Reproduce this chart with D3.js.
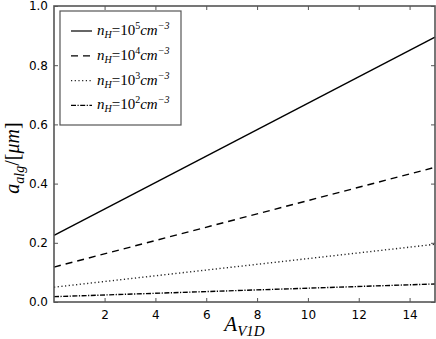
<!DOCTYPE html>
<html>
<head>
<meta charset="utf-8">
<script src="https://cdn.jsdelivr.net/npm/d3@7"></script>
<style>
  html, body { margin: 0; padding: 0; background: #fff; }
  svg { display: block; }
  .tick text { font-family: "DejaVu Sans", sans-serif; font-size: 12px; fill: #000; }
  .math { font-family: "Liberation Serif", "DejaVu Serif", serif; font-style: italic; fill: #000; }
</style>
</head>
<body>
<div id="chart"></div>
<script>
(function () {
  'use strict';

  // A_V1D endpoints of each (straight) curve
  const AV = [0.01, 15];
  // grain size a_alg in micron, one array per density
  const A_NH5 = [0.225, 0.895];
  const A_NH4 = [0.118, 0.455];
  const A_NH3 = [0.050, 0.195];
  const A_NH2 = [0.018, 0.061];

  const EXPONENTS = ['5', '4', '3', '2'];
  const X_TICKS = [2, 4, 6, 8, 10, 12, 14];
  const Y_TICKS = [0, 0.2, 0.4, 0.6, 0.8, 1.0];

  const SERIES = [
    { exp: EXPONENTS[0], values: A_NH5, dash: null, color: '#000' },
    { exp: EXPONENTS[1], values: A_NH4, dash: '7,5', color: '#000' },
    { exp: EXPONENTS[2], values: A_NH3, dash: '1.2,2.5', color: '#222' },
    { exp: EXPONENTS[3], values: A_NH2, dash: '5,1.5,1.2,1.5', color: '#000' },
  ];

  const W = 436, H = 339;
  const margin = { top: 6, right: 1, bottom: 37, left: 54 };
  const w = W - margin.left - margin.right;
  const h = H - margin.top - margin.bottom;

  const svg = d3.select('#chart').append('svg')
    .attr('width', W).attr('height', H);
  const g = svg.append('g').attr('transform', `translate(${margin.left},${margin.top})`);

  const x = d3.scaleLinear().domain([0.01, 15]).range([0, w]);
  const y = d3.scaleLinear().domain([0, 1]).range([h, 0]);

  // Curves
  const line = d3.line().x(d => x(d[0])).y(d => y(d[1]));
  SERIES.forEach(s => {
    g.append('path')
      .datum(AV.map((a, i) => [a, s.values[i]]))
      .attr('d', line)
      .attr('fill', 'none')
      .attr('stroke', s.color)
      .attr('stroke-width', 1.4)
      .attr('stroke-dasharray', s.dash);
  });

  // Axes, ticks pointing inwards on all four sides
  const axisColor = '#555';
  const styleAxis = (sel) => {
    sel.select('.domain').remove();
    sel.selectAll('.tick line').attr('stroke', axisColor).attr('stroke-width', 1);
  };

  g.append('g').attr('transform', `translate(0,${h})`)
    .call(d3.axisBottom(x).tickValues(X_TICKS).tickSizeInner(-4).tickSizeOuter(0).tickPadding(8).tickFormat(d3.format('d')))
    .call(styleAxis);
  g.append('g')
    .call(d3.axisTop(x).tickValues(X_TICKS).tickSizeInner(-4).tickSizeOuter(0).tickFormat(''))
    .call(styleAxis);
  g.append('g')
    .call(d3.axisLeft(y).tickValues(Y_TICKS).tickSizeInner(-4).tickSizeOuter(0).tickPadding(6).tickFormat(d3.format('.1f')))
    .call(styleAxis);
  g.append('g').attr('transform', `translate(${w},0)`)
    .call(d3.axisRight(y).tickValues(Y_TICKS).tickSizeInner(-4).tickSizeOuter(0).tickFormat(''))
    .call(styleAxis);

  // Frame
  g.append('rect')
    .attr('x', 0).attr('y', 0).attr('width', w).attr('height', h)
    .attr('fill', 'none').attr('stroke', axisColor).attr('stroke-width', 1.6);

  // Axis labels
  const xl = svg.append('text').attr('class', 'math')
    .attr('x', margin.left + w / 2).attr('y', 331)
    .attr('text-anchor', 'middle').attr('font-size', 21);
  xl.append('tspan').text('A');
  xl.append('tspan').attr('font-size', 15).attr('dy', 5).text('V1D');

  const yl = svg.append('text').attr('class', 'math')
    .attr('transform', `translate(19,${margin.top + 152}) rotate(-90)`)
    .attr('text-anchor', 'middle').attr('font-size', 20);
  yl.append('tspan').text('a');
  yl.append('tspan').attr('font-size', 14).attr('dy', 5).text('alg');
  yl.append('tspan').attr('dy', -5).attr('font-style', 'normal').text('/[');
  yl.append('tspan').text('μm');
  yl.append('tspan').attr('font-style', 'normal').text(']');

  // Legend
  const lg = svg.append('g');
  lg.append('rect')
    .attr('x', 60).attr('y', 11).attr('width', 121).attr('height', 114)
    .attr('fill', '#fff').attr('stroke', axisColor).attr('stroke-width', 1.2);
  SERIES.forEach((s, i) => {
    const ry = 31 + i * 24.8;
    lg.append('line')
      .attr('x1', 71).attr('x2', 92).attr('y1', ry).attr('y2', ry)
      .attr('stroke', s.color).attr('stroke-width', 1.2)
      .attr('stroke-dasharray', s.dash);
    const t = lg.append('text').attr('class', 'math')
      .attr('x', 97).attr('y', ry + 4).attr('font-size', 15);
    t.append('tspan').text('n');
    t.append('tspan').attr('font-size', 10).attr('dy', 3).text('H');
    t.append('tspan').attr('dy', -3).attr('font-style', 'normal').text('=10');
    t.append('tspan').attr('font-size', 10).attr('dy', -6).attr('font-style', 'normal').text(s.exp);
    t.append('tspan').attr('dy', 6).text('cm');
    t.append('tspan').attr('font-size', 10).attr('dy', -6).text('−3');
  });
})();
</script>
</body>
</html>
